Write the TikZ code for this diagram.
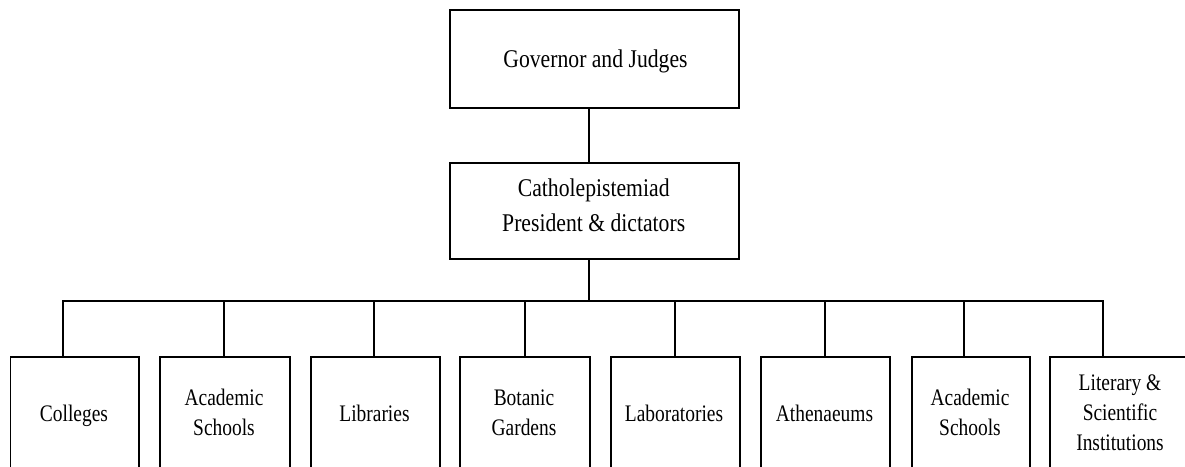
\documentclass[tikz,border=0pt]{standalone}
\usepackage{fontspec}
\setmainfont{Liberation Serif}
\newfontfamily\headfont[FakeStretch=0.85]{Liberation Serif}
\newfontfamily\unitfont[FakeStretch=0.82]{Liberation Serif}
\begin{document}
\begin{tikzpicture}[x=1pt,y=-1pt,
  box/.style={draw=black, line width=1.8pt, rectangle, inner sep=0pt, anchor=north west},
  headtext/.style={anchor=north, inner sep=0pt, align=center,
    font=\headfont\fontsize{25.5}{35.7}\selectfont},
  unittext/.style={anchor=north, inner sep=0pt, align=center,
    font=\unitfont\fontsize{23.7}{30}\selectfont},
  link/.style={draw=black, line width=1.8pt}]
\useasboundingbox (0,0) rectangle (1185,466);
\clip (0,0) rectangle (1185,466);
\fill[white] (0,0) rectangle (1185,466);

% upper two boxes
\node[box, minimum width=289pt, minimum height=98pt] (gov) at (449.3,9) {};
\node[box, minimum width=289pt, minimum height=96pt] (cat) at (449.3,162) {};
\node[headtext] (govtext) at (595.5,42.3) {\strut Governor and Judges};
\node[headtext] (cattext) at (593.7,171) {\strut Catholepistemiad\\President \& dictators};

% lower row of boxes (running past the lower edge)
\node[box, minimum width=128.5pt, minimum height=116pt] (b1) at (9.5,356) {};
\node[box, minimum width=130pt, minimum height=116pt] (b2) at (159,356) {};
\node[box, minimum width=129pt, minimum height=116pt] (b3) at (310,356) {};
\node[box, minimum width=130pt, minimum height=116pt] (b4) at (459,356) {};
\node[box, minimum width=129pt, minimum height=116pt] (b5) at (610,356) {};
\node[box, minimum width=129pt, minimum height=116pt] (b6) at (760,356) {};
\node[box, minimum width=118pt, minimum height=116pt] (b7) at (911,356) {};
\node[box, minimum width=142pt, minimum height=116pt] (b8) at (1049,356) {};

\node[unittext] (l1) at (74,400.5) {\strut Colleges};
\node[unittext] (l2) at (224,384.5) {\strut Academic\\Schools};
\node[unittext] (l3) at (374.5,400.5) {\strut Libraries};
\node[unittext] (l4) at (524,384.5) {\strut Botanic\\Gardens};
\node[unittext] (l5) at (674,400.5) {\strut Laboratories};
\node[unittext] (l6) at (824.5,400.5) {\strut Athenaeums};
\node[unittext] (l7) at (970,384.5) {\strut Academic\\Schools};
\node[unittext] (l8) at (1120,369) {\strut Literary \&\\Scientific\\Institutions};

% connectors
\coordinate (trunk) at (589,300.7);
\coordinate (t1) at (63,300.7);
\coordinate (t2) at (224,300.7);
\coordinate (t3) at (374,300.7);
\coordinate (t4) at (525,300.7);
\coordinate (t5) at (675,300.7);
\coordinate (t6) at (825,300.7);
\coordinate (t7) at (964,300.7);
\coordinate (t8) at (1103,300.7);

\draw[link] (gov.south -| trunk) -- (cat.north -| trunk);
\draw[link] (cat.south -| trunk) -- (trunk);
\draw[link] (b1.north -| t1) -- (t1) -- (t8) -- (b8.north -| t8);
\foreach \i in {2,...,7} {
  \draw[link] (t\i) -- (b\i.north -| t\i);
}
\end{tikzpicture}
\end{document}
